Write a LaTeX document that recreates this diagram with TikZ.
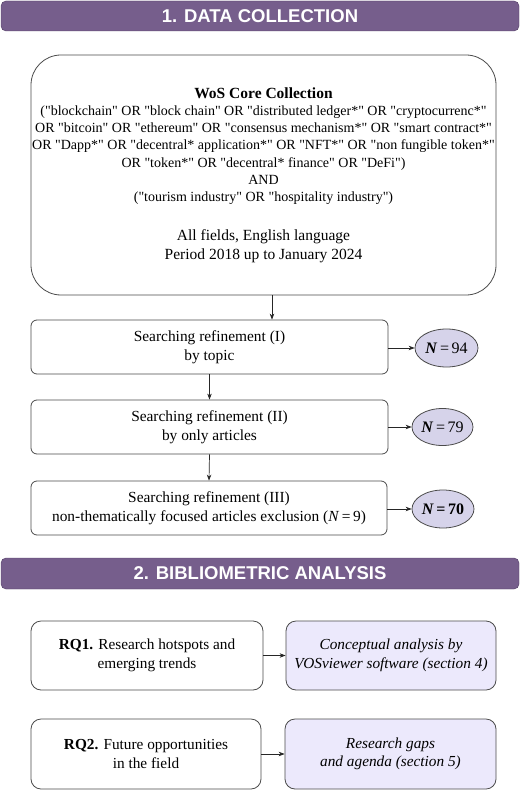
\documentclass[tikz,border=0pt]{standalone}
\usepackage{fontspec}
\setmainfont{Liberation Serif}[Ligatures=TeXOff]
\newfontfamily\hdrfont{Liberation Sans}
\usetikzlibrary{arrows.meta,shapes.geometric}
\definecolor{hdrpurple}{RGB}{118,94,140}
\definecolor{hdrborder}{RGB}{80,60,100}
\definecolor{ellfill}{RGB}{214,211,234}
\definecolor{boxfill}{RGB}{236,233,252}
\definecolor{edge}{RGB}{75,75,75}
\tikzset{
  header/.style={draw=hdrborder, fill=hdrpurple, rounded corners=5pt, minimum width=518pt, minimum height=30pt,
    text=white, font=\hdrfont\bfseries\fontsize{18.5}{20}\selectfont, inner sep=0pt},
  stepbox/.style={draw=edge, line width=0.8pt, rounded corners=6pt, align=center, inner sep=0pt,
    font=\fontsize{15.4}{19.5}\selectfont},
  countell/.style={ellipse, draw=edge, line width=0.8pt, fill=ellfill, inner sep=0pt,
    font=\fontsize{16}{18}\selectfont},
  rqbox/.style={draw=edge, line width=0.8pt, rounded corners=10pt, align=center, inner sep=0pt,
    font=\fontsize{15.3}{18.5}\selectfont},
  outbox/.style={rqbox, fill=boxfill, font=\itshape\fontsize{15.3}{18.5}\selectfont},
  arr/.style={-{Stealth[length=6pt,width=4.5pt]}, line width=0.7pt, draw=black!85},
}
\begin{document}
\begin{tikzpicture}[x=1pt,y=-1pt]
\useasboundingbox (0,0) rectangle (520,794);

\node[header] (h1) at (260,16) {1. DATA COLLECTION};

\node[draw=edge, line width=0.8pt, rounded corners=30pt, minimum width=465pt, minimum height=240pt,
  align=center, inner sep=0pt, font=\fontsize{14}{17.3}\selectfont] (big) at (263.5,175)
{{\bfseries\fontsize{15.5}{17.3}\selectfont WoS Core Collection}\\
("blockchain" OR "block chain" OR "distributed ledger*" OR "cryptocurrenc*"\\
OR "bitcoin" OR "ethereum" OR "consensus mechanism*" OR "smart contract*"\\
OR "Dapp*" OR "decentral* application*" OR "NFT*" OR "non fungible token*"\\
OR "token*" OR "decentral* finance" OR "DeFi")\\
AND\\
("tourism industry" OR "hospitality industry")\\[21pt]
{\fontsize{15.5}{19}\selectfont All fields, English language}\\[2pt]
{\fontsize{15.5}{19}\selectfont Period 2018 up to January 2024}};

\node[stepbox, minimum width=357pt, minimum height=54pt] (s1) at (209.5,347)
{Searching refinement (I)\\by topic};
\node[stepbox, minimum width=357pt, minimum height=54pt] (s2) at (209.5,427)
{Searching refinement (II)\\by only articles};
\node[stepbox, minimum width=356pt, minimum height=54pt] (s3) at (209,508)
{Searching refinement (III)\\non-thematically focused articles exclusion (\textit{N}\,=\,9)};

\node[countell, minimum width=63pt, minimum height=38pt] (e1) at (446.5,348) {\textit{\textbf{N}}\,=\,94};
\node[countell, minimum width=61pt, minimum height=37pt] (e2) at (442.5,427) {\textit{\textbf{N}}\,=\,79};
\node[countell, minimum width=62pt, minimum height=38pt] (e3) at (443,509) {\textbf{\textit{N}\,=\,70}};

\node[header, minimum height=31pt] (h2) at (260,573.5) {2. BIBLIOMETRIC ANALYSIS};

\node[rqbox, minimum width=232pt, minimum height=69pt] (rq1) at (147,655.5)
{\textbf{RQ1.} Research hotspots and\\emerging trends};
\node[outbox, minimum width=210pt, minimum height=69pt] (o1) at (391,655.5)
{Conceptual analysis by\\VOSviewer software (section 4)};
\node[rqbox, minimum width=230pt, minimum height=70pt] (rq2) at (146,754)
{\textbf{RQ2.} Future opportunities\\in the field};
\node[outbox, minimum width=211pt, minimum height=70pt] (o2) at (390.5,754)
{Research gaps\\and agenda (section 5)};

\coordinate (ax) at (272,0);
\draw[arr] (big.south -| ax) -- (s1.north -| ax);
\draw[arr] (s1.south) -- (s2.north);
\draw[arr] (s2.south) -- (s3.north);
\draw[arr] (s1.east |- e1) -- (e1.west);
\draw[arr] (s2.east |- e2) -- (e2.west);
\draw[arr] (s3.east |- e3) -- (e3.west);
\draw[arr] (rq1.east) -- (o1.west);
\draw[arr] (rq2.east) -- (o2.west);
\end{tikzpicture}
\end{document}
